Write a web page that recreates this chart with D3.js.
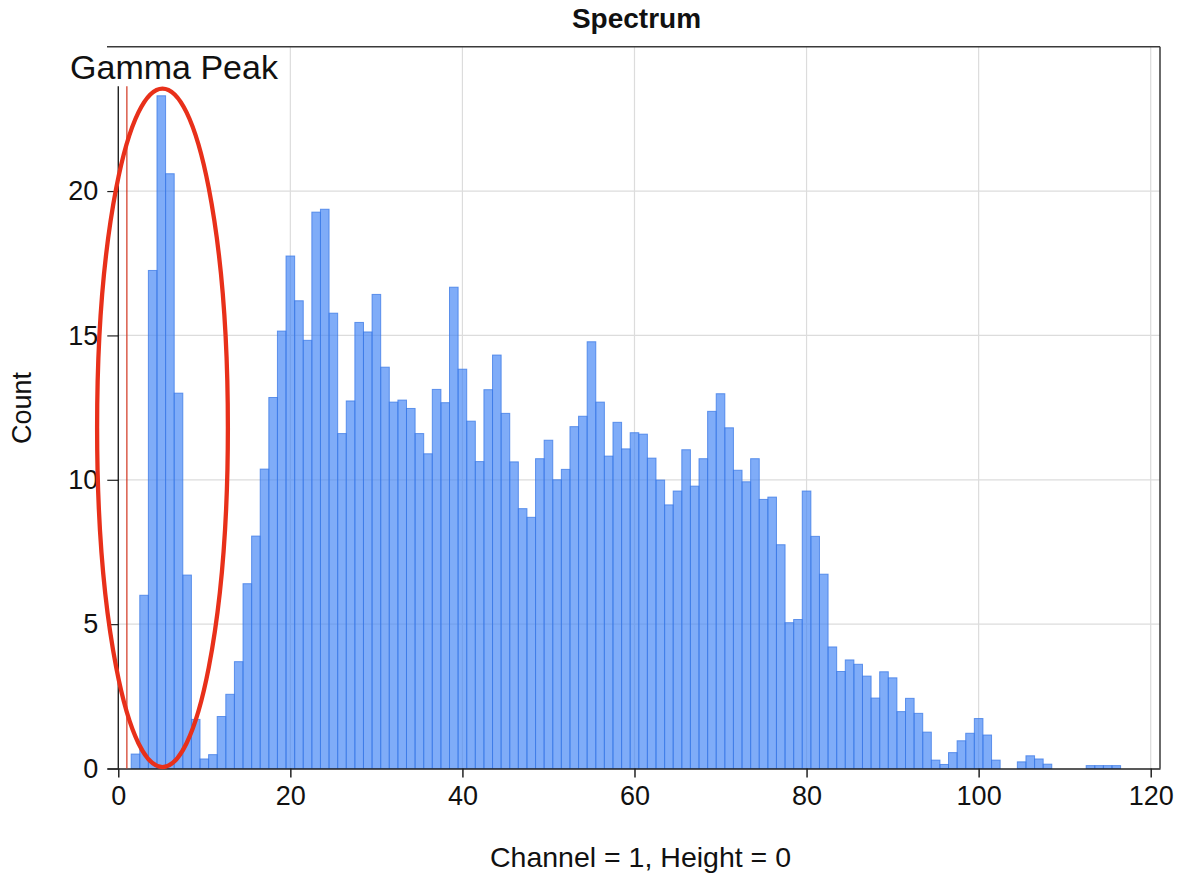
<!DOCTYPE html>
<html>
<head>
<meta charset="utf-8">
<script src="https://cdn.jsdelivr.net/npm/d3@7"></script>
<style>
  html, body { margin: 0; padding: 0; background: #fff; }
  svg { display: block; font-family: "Liberation Sans", Arial, sans-serif; }
</style>
</head>
<body>
<svg id="chart" width="1182" height="878"></svg>
<script>
// ---- data ----
const channels = d3.range(0, 117);
const counts = [
  0, 0, 0.5, 6.0, 17.25, 23.3, 20.6, 13.0, 6.7, 1.7,
  0.33, 0.48, 1.8, 2.57, 3.7, 6.4, 8.05, 10.37, 12.85, 15.15,
  17.75, 16.2, 14.83, 19.27, 19.37, 15.77, 11.6, 12.73, 15.45, 15.12,
  16.42, 13.9, 12.69, 12.76, 12.47, 11.6, 10.9, 13.13, 12.67, 16.67,
  13.83, 12.03, 10.63, 13.12, 14.32, 12.3, 10.62, 9.0, 8.7, 10.73,
  11.37, 10.0, 10.36, 11.84, 12.2, 14.78, 12.69, 10.82, 11.99, 11.07,
  11.63, 11.58, 10.75, 9.99, 9.13, 9.61, 11.04, 9.78, 10.73, 12.37,
  12.98, 11.8, 10.33, 9.93, 10.73, 9.32, 9.4, 7.75, 5.05, 5.16,
  9.61, 8.04, 6.73, 4.21, 3.36, 3.76, 3.61, 3.2, 2.44, 3.35,
  3.14, 1.97, 2.43, 1.91, 1.26, 0.29, 0.14, 0.55, 0.96, 1.22,
  1.73, 1.16, 0.29, 0, 0, 0.23, 0.44, 0.33, 0.15, 0,
  0, 0, 0, 0.1, 0.1, 0.1, 0.1
];
const xTicks = [0, 20, 40, 60, 80, 100, 120];
const yTicks = [0, 5, 10, 15, 20];
const titleText = "Spectrum";
const xLabel = "Channel = 1, Height = 0";
const yLabel = "Count";
const annotationText = "Gamma Peak";
const markerChannels = [0, 1];          // black cursor at 0, red cursor at 1
const markerTop = 23.63;
const peakEllipse = { cx: 5.14, cy: 11.8, rx: 7.6, ry: 11.75 };

// ---- layout ----
const svg = d3.select("#chart");
const pL = 107, pR = 1160, pT = 46.7, pB = 768.5;
const x = d3.scaleLinear().domain([-1.31, 121.08]).range([pL, pR]);
const y = d3.scaleLinear().domain([0, 25]).range([pB, pT]);

// gridlines
const grid = svg.append("g");
grid.selectAll("line.gx").data(xTicks.filter(d => d > 0)).join("line")
  .attr("x1", d => x(d)).attr("x2", d => x(d))
  .attr("y1", pT).attr("y2", pB)
  .attr("stroke", "#dcdcdc").attr("stroke-width", 1.2);
grid.selectAll("line.gy").data(yTicks.filter(d => d > 0)).join("line")
  .attr("x1", x(0)).attr("x2", pR)
  .attr("y1", d => y(d)).attr("y2", d => y(d))
  .attr("stroke", "#dcdcdc").attr("stroke-width", 1.2);

// bars
const data = channels.map((c, i) => ({ c, v: counts[i] })).filter(d => d.v > 0);
svg.append("g").selectAll("rect").data(data).join("rect")
  .attr("x", d => x(d.c - 0.5))
  .attr("width", d => x(d.c + 0.5) - x(d.c - 0.5))
  .attr("y", d => y(d.v))
  .attr("height", d => y(0) - y(d.v))
  .attr("fill", "#4285f4")
  .attr("fill-opacity", 0.68)
  .attr("stroke", "#3a78e6")
  .attr("stroke-opacity", 0.75)
  .attr("stroke-width", 1);

// frame top and right
svg.append("line").attr("x1", pL).attr("x2", pR).attr("y1", pT).attr("y2", pT)
  .attr("stroke", "#3a3a3a").attr("stroke-width", 1.5);
svg.append("line").attr("x1", pR).attr("x2", pR).attr("y1", pT).attr("y2", pB)
  .attr("stroke", "#3a3a3a").attr("stroke-width", 1.5);

// x axis
const xAxis = d3.axisBottom(x).tickValues(xTicks).tickSize(9).tickPadding(8).tickSizeOuter(0);
const gx = svg.append("g").attr("transform", `translate(0,${pB})`).call(xAxis);
gx.select(".domain").attr("stroke", "#222").attr("stroke-width", 1.5);
gx.selectAll(".tick line").attr("stroke", "#222").attr("stroke-width", 1.5);
gx.selectAll(".tick text").attr("font-size", 27).attr("fill", "#111")
  .attr("font-family", "'Liberation Sans', Arial, sans-serif");

// y axis (ticks only, pointing left from x=0 cursor)
const yAxis = d3.axisLeft(y).tickValues(yTicks).tickSize(11).tickPadding(9).tickSizeOuter(0);
const gy = svg.append("g").attr("transform", `translate(${x(0)},0)`).call(yAxis);
gy.select(".domain").remove();
gy.selectAll(".tick line").attr("stroke", "#222").attr("stroke-width", 1.2);
gy.selectAll(".tick text").attr("font-size", 27).attr("fill", "#111")
  .attr("font-family", "'Liberation Sans', Arial, sans-serif");

// cursor lines
svg.append("line").attr("x1", x(markerChannels[0])).attr("x2", x(markerChannels[0]))
  .attr("y1", y(markerTop)).attr("y2", pB).attr("stroke", "#111").attr("stroke-width", 1.3);
svg.append("line").attr("x1", x(markerChannels[1])).attr("x2", x(markerChannels[1]))
  .attr("y1", y(markerTop)).attr("y2", pB).attr("stroke", "#d0341e").attr("stroke-width", 1.2);

// ellipse highlight
svg.append("ellipse")
  .attr("cx", x(peakEllipse.cx)).attr("cy", y(peakEllipse.cy))
  .attr("rx", x(peakEllipse.rx) - x(0)).attr("ry", y(0) - y(peakEllipse.ry))
  .attr("fill", "none").attr("stroke", "#e8301a").attr("stroke-width", 4.3);

// annotation
svg.append("text").attr("x", x(-5.6)).attr("y", y(23.87))
  .attr("font-size", 34).attr("fill", "#111").text(annotationText);

// title
svg.append("text").attr("x", (pL + pR) / 2 + 3).attr("y", 28)
  .attr("text-anchor", "middle").attr("font-size", 28).attr("font-weight", "bold")
  .attr("fill", "#111").text(titleText);

// axis labels
svg.append("text").attr("x", (pL + pR) / 2 + 7).attr("y", 867)
  .attr("text-anchor", "middle").attr("font-size", 28.5).attr("fill", "#111").text(xLabel);
svg.append("text").attr("transform", `translate(31,408) rotate(-90)`)
  .attr("text-anchor", "middle").attr("font-size", 27).attr("fill", "#111").text(yLabel);
</script>
</body>
</html>
